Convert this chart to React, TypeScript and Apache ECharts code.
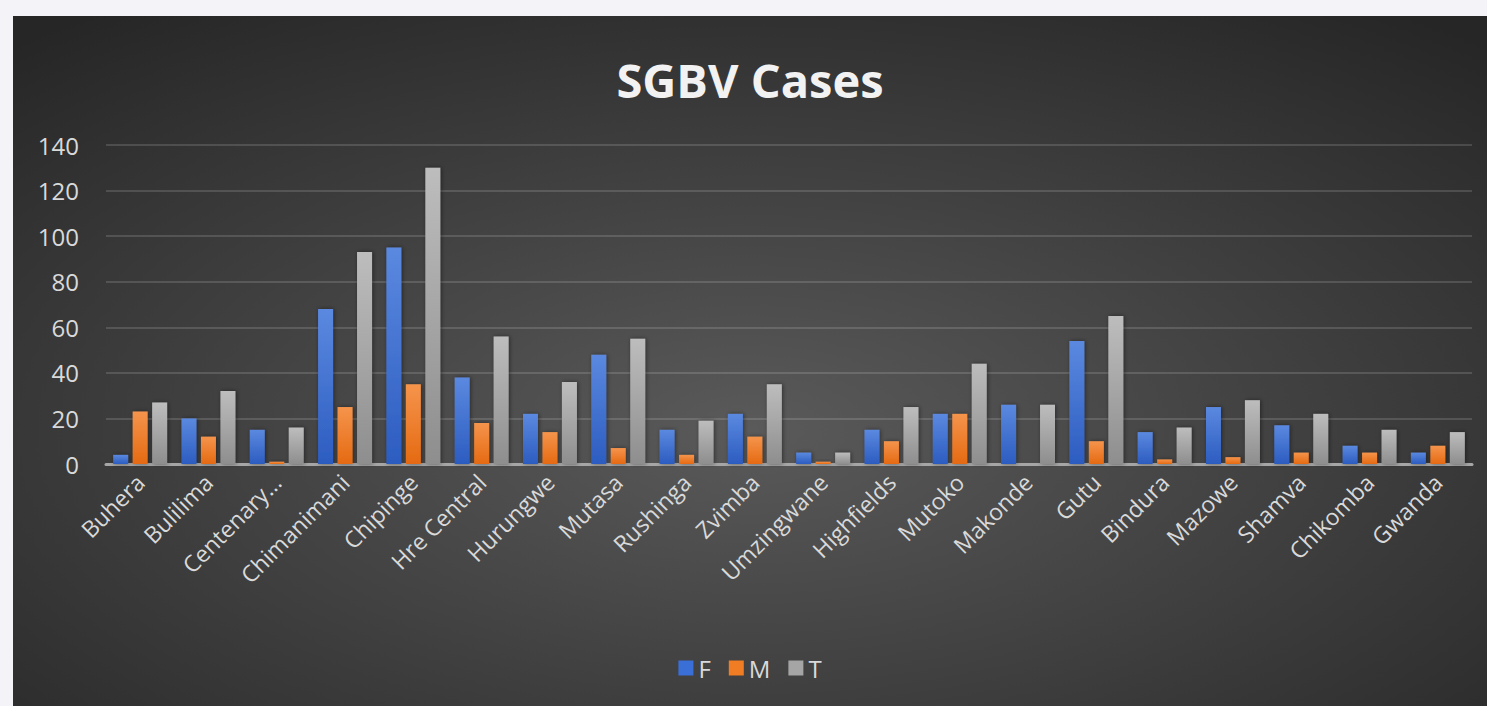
import React, { useEffect, useRef } from "react";
import * as echarts from "echarts";

const categories = [
  "Buhera", "Bulilima", "Centenary…", "Chimanimani", "Chipinge", "Hre Central",
  "Hurungwe", "Mutasa", "Rushinga", "Zvimba", "Umzingwane", "Highfields",
  "Mutoko", "Makonde", "Gutu", "Bindura", "Mazowe", "Shamva", "Chikomba", "Gwanda",
];
const femaleValues = [4, 20, 15, 68, 95, 38, 22, 48, 15, 22, 5, 15, 22, 26, 54, 14, 25, 17, 8, 5];
const maleValues = [23, 12, 1, 25, 35, 18, 14, 7, 4, 12, 1, 10, 22, 0, 10, 2, 3, 5, 5, 8];
const totalValues = [27, 32, 16, 93, 130, 56, 36, 55, 19, 35, 5, 25, 44, 26, 65, 16, 28, 22, 15, 14];
const yTicks = { min: 0, max: 140, interval: 20 };

const FONT = "'Open Sans', 'Noto Sans', sans-serif";

function grad(top: string, bottom: string) {
  return new echarts.graphic.LinearGradient(0, 0, 0, 1, [
    { offset: 0, color: top },
    { offset: 1, color: bottom },
  ]);
}

export default function App() {
  const ref = useRef<HTMLDivElement>(null);
  useEffect(() => {
    if (!ref.current) return;
    const chart = echarts.init(ref.current, undefined, { renderer: "svg" });
    const barStyle = (top: string, bottom: string) => ({
      color: grad(top, bottom),
      shadowBlur: 4,
      shadowColor: "rgba(0,0,0,0.45)",
      shadowOffsetX: 1,
      shadowOffsetY: 0,
    });
    chart.setOption({
      animation: false,
      backgroundColor: {
        type: "radial",
        x: 0.5,
        y: 0.6,
        r: 0.75,
        colorStops: [
          { offset: 0, color: "#5a5a5a" },
          { offset: 1, color: "#262626" },
        ],
      },
      title: {
        text: "SGBV Cases",
        left: "center",
        top: 35,
        textStyle: { color: "#f2f2f2", fontSize: 47, fontWeight: "bold", fontFamily: FONT },
      },
      legend: {
        bottom: 21,
        left: "center",
        icon: "rect",
        itemWidth: 15,
        itemHeight: 15,
        itemGap: 18,
        textStyle: { color: "#d9d9d9", fontSize: 24, fontFamily: FONT },
        data: [
          { name: "F", itemStyle: { color: "#3a6fd8" } },
          { name: "M", itemStyle: { color: "#f07c24" } },
          { name: "T", itemStyle: { color: "#a5a5a5" } },
        ],
      },
      grid: { left: 93, right: 15, top: 129, bottom: 242, containLabel: false },
      xAxis: {
        type: "category",
        data: categories,
        axisTick: { show: false },
        axisLine: { show: true, lineStyle: { color: "#a6a6a6", width: 3 } },
        axisLabel: {
          rotate: 45,
          interval: 0,
          margin: 14,
          color: "#d9d9d9",
          fontSize: 23,
          fontFamily: FONT,
        },
      },
      yAxis: {
        type: "value",
        min: yTicks.min,
        max: yTicks.max,
        interval: yTicks.interval,
        axisLine: { show: false },
        axisTick: { show: false },
        axisLabel: { color: "#d9d9d9", fontSize: 24, fontFamily: FONT, margin: 27 },
        splitLine: { lineStyle: { color: "rgba(255,255,255,0.14)", width: 2 } },
      },
      series: [
        {
          name: "F",
          type: "bar",
          data: femaleValues,
          barGap: "30%",
          barCategoryGap: "21%",
          itemStyle: barStyle("#5b89e0", "#2c5cc0"),
        },
        {
          name: "M",
          type: "bar",
          data: maleValues,
          itemStyle: barStyle("#f5944c", "#e56a12"),
        },
        {
          name: "T",
          type: "bar",
          data: totalValues,
          itemStyle: barStyle("#bdbdbd", "#8e8e8e"),
        },
      ],
    });
    return () => chart.dispose();
  }, []);
  return (
    <div
      style={{
        position: "fixed",
        left: 0,
        top: 0,
        width: 1487,
        height: 706,
        background: "#f3f3f8",
        overflow: "hidden",
      }}
    >
      <div
        ref={ref}
        style={{ position: "absolute", left: 13, top: 16, width: 1474, height: 690 }}
      />
    </div>
  );
}
